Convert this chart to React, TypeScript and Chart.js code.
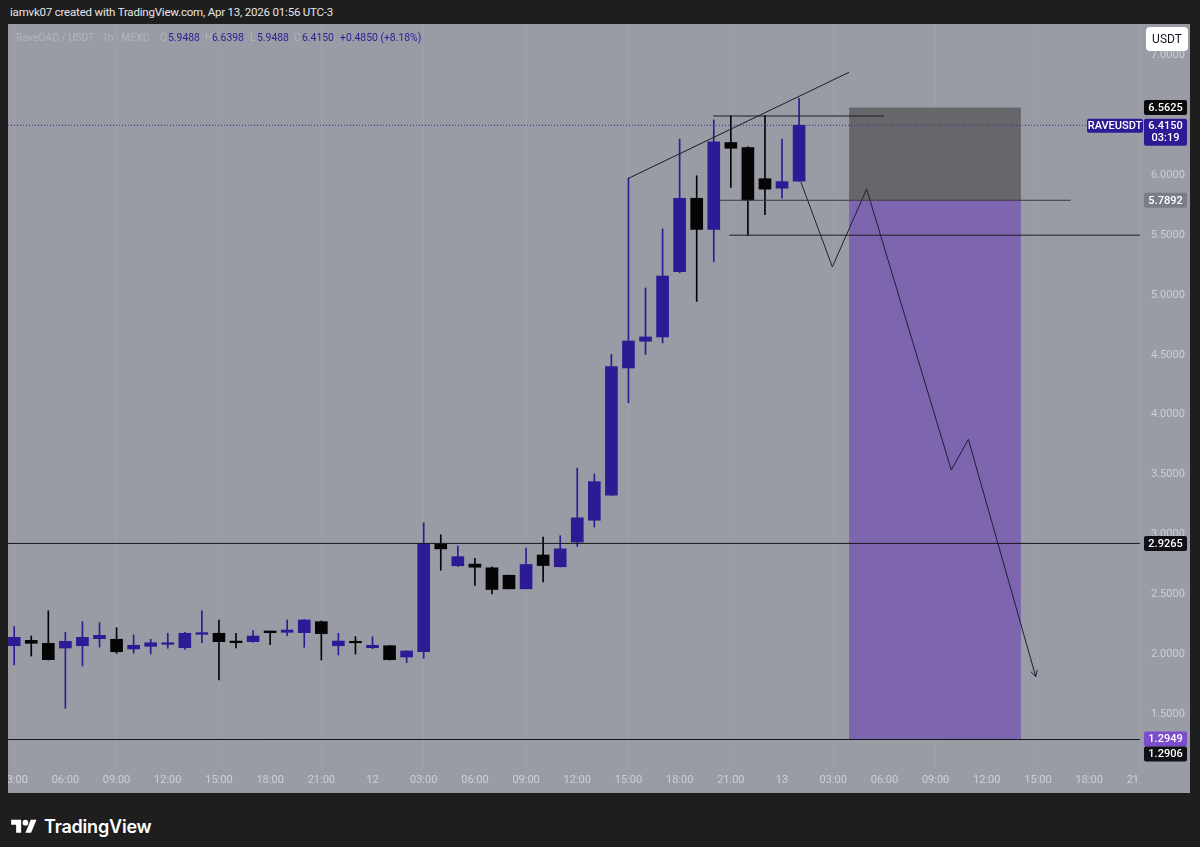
import React, { useEffect, useRef } from "react";
import { Chart, registerables } from "chart.js";

Chart.register(...registerables);

// ---- candle data (hours since Apr 11 00:00, 1h candles) ----
const hours = [3, 4, 5, 6, 7, 8, 9, 10, 11, 12, 13, 14, 15, 16, 17, 18, 19, 20, 21, 22, 23, 24, 25, 26, 27, 28, 29, 30, 31, 32, 33, 34, 35, 36, 37, 38, 39, 40, 41, 42, 43, 44, 45, 46, 47, 48, 49];
const opens = [2.073, 2.118, 2.093, 2.054, 2.073, 2.132, 2.127, 2.046, 2.068, 2.085, 2.057, 2.168, 2.177, 2.112, 2.107, 2.196, 2.185, 2.182, 2.274, 2.073, 2.110, 2.057, 2.073, 1.979, 2.023, 2.924, 2.740, 2.754, 2.723, 2.661, 2.548, 2.830, 2.732, 2.938, 3.120, 3.329, 4.390, 4.613, 4.649, 5.193, 5.806, 5.546, 6.271, 6.229, 5.969, 5.890, 5.9488];
const highs = [2.232, 2.154, 2.365, 2.185, 2.274, 2.265, 2.223, 2.163, 2.127, 2.177, 2.185, 2.365, 2.288, 2.177, 2.199, 2.196, 2.288, 2.292, 2.280, 2.177, 2.149, 2.149, 2.075, 2.031, 3.099, 2.999, 2.906, 2.802, 2.732, 2.663, 2.887, 2.979, 2.991, 3.555, 3.506, 4.503, 5.975, 5.058, 5.551, 6.299, 5.994, 6.460, 6.496, 6.234, 6.496, 6.299, 6.6398];
const lows = [1.912, 1.987, 1.954, 1.551, 1.904, 2.062, 2.010, 2.010, 2.004, 2.052, 2.043, 2.098, 1.787, 2.054, 2.102, 2.082, 2.157, 2.060, 1.954, 1.996, 2.004, 2.048, 1.954, 1.932, 1.968, 2.703, 2.735, 2.576, 2.505, 2.546, 2.546, 2.605, 2.730, 2.901, 3.064, 3.327, 4.099, 4.503, 4.599, 5.185, 4.946, 5.275, 5.896, 5.495, 5.670, 5.806, 5.9488];
const closes = [2.143, 2.093, 1.957, 2.110, 2.143, 2.160, 2.023, 2.077, 2.098, 2.098, 2.177, 2.182, 2.107, 2.098, 2.154, 2.182, 2.204, 2.288, 2.174, 2.112, 2.098, 2.077, 1.957, 2.029, 2.928, 2.881, 2.816, 2.728, 2.542, 2.548, 2.751, 2.742, 2.881, 3.140, 3.442, 4.401, 4.615, 4.649, 5.157, 5.806, 5.546, 6.276, 6.223, 5.791, 5.882, 5.945, 6.4150];

// ---- axes ----
const timeTicks = [3, 6, 9, 12, 15, 18, 21, 24, 27, 30, 33, 36, 39, 42, 45, 48, 51, 54, 57, 60, 63, 66, 69];
const timeLabels = ["03:00", "06:00", "09:00", "12:00", "15:00", "18:00", "21:00", "12", "03:00", "06:00", "09:00", "12:00", "15:00", "18:00", "21:00", "13", "03:00", "06:00", "09:00", "12:00", "15:00", "18:00", "21:00"];
const priceTicks = [1.5, 2.0, 2.5, 3.0, 3.5, 4.0, 4.5, 5.0, 5.5, 6.0, 7.0];
const X_MIN = 2.637;
const X_MAX = 68.98;
const Y_MIN = 1.053;
const Y_MAX = 7.2597;

// ---- drawings (time, price) ----
const trendLineX = [39.0, 51.93];
const trendLineY = [5.972, 6.857];
const rangeTopX = [43.97, 53.98];
const rangeTopPrice = 6.492;
const entryLineX = [44.37, 64.92];
const supportLineX = [44.91, X_MAX];
const supportPrice = 5.498;
const pathX = [49.1, 50.95, 52.96, 57.92, 58.92, 62.87];
const pathY = [5.944, 5.233, 5.883, 3.539, 3.795, 1.815];
const positionX = [51.93, 62.0];
const stopPrice = 6.5625;
const entryPrice = 5.7892;
const targetPrice = 1.2949;
const levelPrices = [2.9265, 1.2906];
const lastPrice = 6.415;

const UP = "#2d1b96";
const DOWN = "#050505";
const PANEL = "#999ca4";
const TICK = "rgba(224,226,231,0.72)";
const LINE = "#1c1c24";

function rr(ctx: CanvasRenderingContext2D, x: number, y: number, w: number, h: number, r: number) {
  ctx.beginPath();
  ctx.moveTo(x + r, y);
  ctx.lineTo(x + w - r, y);
  ctx.quadraticCurveTo(x + w, y, x + w, y + r);
  ctx.lineTo(x + w, y + h - r);
  ctx.quadraticCurveTo(x + w, y + h, x + w - r, y + h);
  ctx.lineTo(x + r, y + h);
  ctx.quadraticCurveTo(x, y + h, x, y + h - r);
  ctx.lineTo(x, y + r);
  ctx.quadraticCurveTo(x, y, x + r, y);
  ctx.closePath();
}

const positionPlugin = {
  id: "positionBox",
  beforeDatasetsDraw(chart: any) {
    const { ctx, chartArea } = chart;
    const xs = chart.scales.x;
    const ys = chart.scales.y;
    const x0 = xs.getPixelForValue(positionX[0]);
    const x1 = xs.getPixelForValue(positionX[1]);
    const yStop = ys.getPixelForValue(stopPrice);
    const yEntry = ys.getPixelForValue(entryPrice);
    const yTarget = ys.getPixelForValue(targetPrice);
    ctx.save();
    ctx.beginPath();
    ctx.rect(chartArea.left, chartArea.top, chartArea.right - chartArea.left, chartArea.bottom - chartArea.top);
    ctx.clip();
    ctx.fillStyle = "#66676b";
    ctx.fillRect(x0, yStop, x1 - x0, yEntry - yStop);
    ctx.fillStyle = "#7d65b0";
    ctx.fillRect(x0, yEntry, x1 - x0, yTarget - yEntry);
    ctx.restore();
  },
  afterDatasetsDraw(chart: any) {
    const { ctx } = chart;
    const xs = chart.scales.x;
    const ys = chart.scales.y;
    const n = pathX.length;
    const ex = xs.getPixelForValue(pathX[n - 1]);
    const ey = ys.getPixelForValue(pathY[n - 1]);
    const sx = xs.getPixelForValue(pathX[n - 2]);
    const sy = ys.getPixelForValue(pathY[n - 2]);
    const a = Math.atan2(ey - sy, ex - sx);
    const L = 7;
    ctx.save();
    ctx.strokeStyle = "#221d3a";
    ctx.lineWidth = 1;
    ctx.beginPath();
    ctx.moveTo(ex - L * Math.cos(a - 0.5), ey - L * Math.sin(a - 0.5));
    ctx.lineTo(ex, ey);
    ctx.lineTo(ex - L * Math.cos(a + 0.5), ey - L * Math.sin(a + 0.5));
    ctx.stroke();
    ctx.restore();
  },
};

const labelsPlugin = {
  id: "axisLabels",
  afterDraw(chart: any) {
    const { ctx, chartArea } = chart;
    const ys = chart.scales.y;
    ctx.save();
    // clip the time axis strip under the price axis
    ctx.fillStyle = PANEL;
    ctx.fillRect(chartArea.right, chartArea.bottom, chart.width - chartArea.right, chart.height - chartArea.bottom);

    const bx = chartArea.right + 4;
    const bw = 43;
    ctx.font = "500 11px Roboto";
    ctx.textAlign = "center";
    ctx.textBaseline = "middle";
    const box = (val: number, bg: string, text: string, dy = 0) => {
      const py = ys.getPixelForValue(val) + dy;
      ctx.fillStyle = bg;
      rr(ctx, bx, py - 7.5, bw, 15, 2);
      ctx.fill();
      ctx.fillStyle = "#ffffff";
      ctx.fillText(text, bx + bw / 2, py + 0.5);
    };
    box(stopPrice, "#0b0b0e", stopPrice.toFixed(4));
    box(entryPrice, "#7a7d87", entryPrice.toFixed(4));
    box(levelPrices[0], "#0f0f16", levelPrices[0].toFixed(4));
    box(targetPrice, "#7b4ccc", targetPrice.toFixed(4));
    box(levelPrices[1], "#0f0f16", levelPrices[1].toFixed(4), 14.5);

    // current price
    const py = ys.getPixelForValue(lastPrice);
    ctx.fillStyle = UP;
    rr(ctx, bx, py - 6.5, bw, 27, 2);
    ctx.fill();
    rr(ctx, chartArea.right - 53, py - 6.5, 56, 14, 2);
    ctx.fill();
    ctx.fillStyle = "#ffffff";
    ctx.fillText(lastPrice.toFixed(4), bx + bw / 2, py + 0.8);
    ctx.fillText("03:19", bx + bw / 2, py + 13);
    ctx.fillText("RAVEUSDT", chartArea.right - 53 + 28, py + 0.8);

    // currency button
    ctx.fillStyle = "#ffffff";
    rr(ctx, chartArea.right + 6, 3, 42, 24, 4);
    ctx.fill();
    ctx.fillStyle = "#131722";
    ctx.font = "12px Roboto";
    ctx.fillText("USDT", chartArea.right + 27, 15.5);
    ctx.restore();
  },
};

export default function App() {
  const ref = useRef<HTMLCanvasElement | null>(null);

  useEffect(() => {
    if (!ref.current) return;
    const colorOf = hours.map((_, i) => (closes[i] >= opens[i] ? UP : DOWN));
    const lineDs = (data: { x: number; y: number }[], color: string, extra: any = {}) => ({
      type: "line" as const,
      data,
      borderColor: color,
      borderWidth: 1,
      pointRadius: 0,
      tension: 0,
      fill: false,
      order: 0,
      ...extra,
    });
    const chart = new Chart(ref.current, {
      type: "bar",
      data: {
        datasets: [
          {
            type: "bar",
            label: "wicks",
            data: hours.map((t, i) => ({ x: t, y: [lows[i], highs[i]] })) as any,
            backgroundColor: colorOf,
            barThickness: 1,
            grouped: false,
            borderWidth: 0,
            order: 3,
          },
          {
            type: "bar",
            label: "bodies",
            data: hours.map((t, i) => ({ x: t, y: [opens[i], closes[i]] })) as any,
            backgroundColor: colorOf,
            barThickness: 12,
            grouped: false,
            borderWidth: 0,
            order: 2,
          },
          lineDs([{ x: X_MIN, y: lastPrice }, { x: X_MAX, y: lastPrice }], "rgba(45,27,150,0.85)", { borderDash: [1, 2] }),
          lineDs(trendLineX.map((x, i) => ({ x, y: trendLineY[i] })), LINE),
          lineDs(rangeTopX.map((x) => ({ x, y: rangeTopPrice })), LINE),
          lineDs(entryLineX.map((x) => ({ x, y: entryPrice })), "#3a3a44"),
          lineDs(supportLineX.map((x) => ({ x, y: supportPrice })), LINE),
          lineDs([{ x: X_MIN, y: levelPrices[0] }, { x: X_MAX, y: levelPrices[0] }], "#16161e"),
          lineDs([{ x: X_MIN, y: levelPrices[1] }, { x: X_MAX, y: levelPrices[1] }], "#16161e"),
          lineDs(pathX.map((x, i) => ({ x, y: pathY[i] })), "#221d3a"),
        ] as any,
      },
      options: {
        animation: false,
        responsive: false,
        events: [],
        layout: { padding: 0 },
        plugins: { legend: { display: false }, tooltip: { enabled: false } },
        scales: {
          x: {
            type: "linear",
            offset: false,
            min: X_MIN,
            max: X_MAX,
            afterBuildTicks: (s: any) => {
              s.ticks = timeTicks.map((v) => ({ value: v }));
            },
            afterFit: (s: any) => {
              s.height = 25;
              s.paddingLeft = 0;
              s.paddingRight = 0;
            },
            ticks: {
              autoSkip: false,
              maxRotation: 0,
              padding: 6,
              color: TICK,
              font: { family: "Roboto", size: 11 },
              callback: (_v: any, i: number) => timeLabels[i],
            },
            grid: {
              offset: false,
              drawTicks: false,
              color: (c: any) => (c.tick && c.tick.value % 6 === 3 ? "rgba(255,255,255,0.06)" : "rgba(0,0,0,0)"),
            },
            border: { display: false },
          },
          y: {
            type: "linear",
            position: "right",
            min: Y_MIN,
            max: Y_MAX,
            afterBuildTicks: (s: any) => {
              s.ticks = priceTicks.map((v) => ({ value: v }));
            },
            afterFit: (s: any) => {
              s.width = 50;
              s.paddingTop = 0;
              s.paddingBottom = 0;
            },
            ticks: {
              crossAlign: "near",
              padding: 11,
              color: TICK,
              font: { family: "Roboto", size: 11 },
              callback: (v: any) => Number(v).toFixed(4),
            },
            grid: { display: false, drawTicks: false },
            border: { display: false },
          },
        },
      } as any,
      plugins: [positionPlugin, labelsPlugin],
    });
    return () => chart.destroy();
  }, []);

  const faint = "#b3b5bc";
  const val = "#2d1b96";
  const legendStyle: React.CSSProperties = { position: "absolute", top: 31, fontFamily: "Roboto", fontSize: 10.4, lineHeight: "13px", whiteSpace: "nowrap" };

  return (
    <div style={{ position: "fixed", left: 0, top: 0, width: 1200, height: 847, background: "#1e1e1e", overflow: "hidden" }}>
      <div style={{ position: "absolute", left: 10, top: 4, fontFamily: "Roboto", fontSize: 11.5, letterSpacing: "-0.2px", lineHeight: "16px", color: "#e6e6e6", whiteSpace: "nowrap" }}>
        iamvk07 created with TradingView.com, Apr 13, 2026 01:56 UTC-3
      </div>
      <div style={{ position: "absolute", left: 8, top: 24, width: 1182, height: 769, background: PANEL }}>
        <canvas ref={ref} width={1182} height={769} style={{ display: "block", width: 1182, height: 769 }} />
      </div>
      <span style={{ ...legendStyle, left: 16, color: faint }}>RaveDAO / USDT · 1h · MEXC</span>
      <span style={{ ...legendStyle, left: 160, color: faint }}>O</span>
      <span style={{ ...legendStyle, left: 168, color: val }}>5.9488</span>
      <span style={{ ...legendStyle, left: 205, color: faint }}>H</span>
      <span style={{ ...legendStyle, left: 212, color: val }}>6.6398</span>
      <span style={{ ...legendStyle, left: 250, color: faint }}>L</span>
      <span style={{ ...legendStyle, left: 257, color: val }}>5.9488</span>
      <span style={{ ...legendStyle, left: 294, color: faint }}>C</span>
      <span style={{ ...legendStyle, left: 302, color: val }}>6.4150</span>
      <span style={{ ...legendStyle, left: 340, color: val }}>+0.4850 (+8.18%)</span>
      <svg style={{ position: "absolute", left: 11, top: 817 }} width={26} height={20} viewBox="0 0 36 28">
        <path d="M14 22H7V11H0V4h14v18zM28 22h-8l7.5-18h8L28 22z" fill="#ffffff" />
        <circle cx={20} cy={8} r={4} fill="#ffffff" />
      </svg>
      <div style={{ position: "absolute", left: 44, top: 815, fontFamily: "Inter", fontWeight: 600, fontSize: 18, lineHeight: "24px", color: "#ffffff", letterSpacing: "-0.2px" }}>
        TradingView
      </div>
    </div>
  );
}
